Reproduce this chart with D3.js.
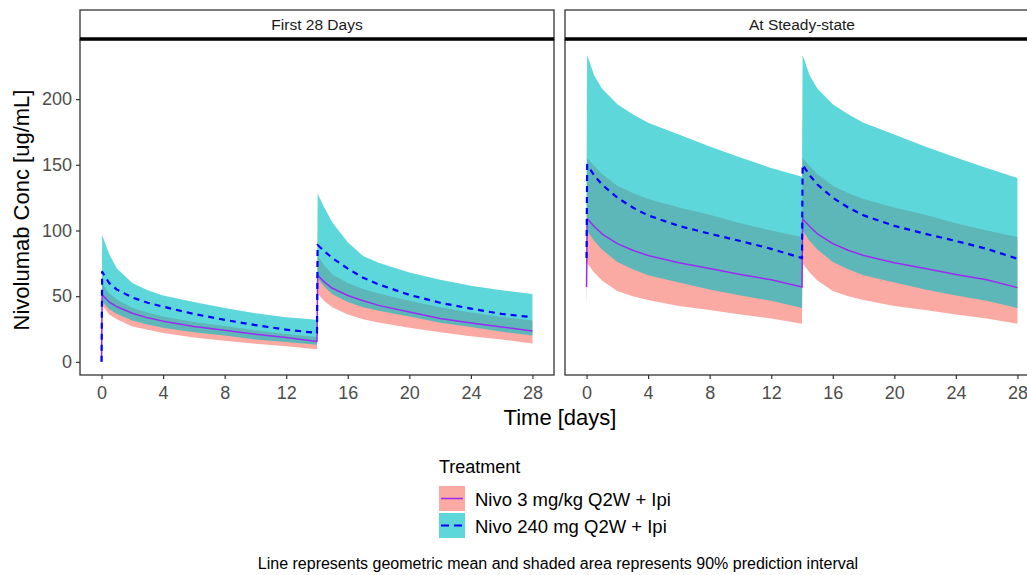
<!DOCTYPE html>
<html>
<head>
<meta charset="utf-8">
<script src="https://cdn.jsdelivr.net/npm/d3@7"></script>
<style>
  html, body { margin: 0; padding: 0; background: #fff; }
  svg { display: block; font-family: "Liberation Sans", Arial, Helvetica, sans-serif; }
</style>
</head>
<body>
<svg id="chart" width="1027" height="575"></svg>
<script>
// ---------------- data ----------------
const panelNames = ["First 28 Days", "At Steady-state"];
const treatments = ["Nivo 3 mg/kg Q2W + Ipi", "Nivo 240 mg Q2W + Ipi"];
const xTicks = [0, 4, 8, 12, 16, 20, 24, 28];
const yTicks = [0, 50, 100, 150, 200];
const times = [0, 0.04, 0.5, 1, 2, 3, 4, 6, 8, 10, 12, 14, 14.04, 14.5, 15, 16, 17, 18, 20, 22, 24, 26, 28];

// First 28 days
const first_nivo3_mean = [0, 51, 45.5, 42, 37, 33.5, 31, 27, 24, 21, 18.5, 15.5, 66, 60.5, 56, 50.5, 46.5, 43, 38, 33, 29.5, 26.5, 23.5];
const first_nivo3_lo   = [0, 43, 36, 32.5, 27, 24.5, 22, 18.5, 16, 13.7, 11.8, 9.6, 52, 46, 41.5, 36, 32.5, 30, 26, 22.5, 19.5, 17, 14];
const first_nivo3_hi   = [0, 60, 52, 47.5, 41, 37.5, 34.5, 30.3, 27.3, 24, 21.3, 19, 81, 73, 66.5, 60, 55.5, 52, 46.5, 41.5, 37.5, 34.3, 31.5];
const first_nivo240_mean = [0, 68.5, 60, 55, 49, 45, 42, 36.5, 32, 28, 24.5, 22, 89, 84, 79, 71, 64, 59, 51, 45, 40.5, 36.5, 34];
const first_nivo240_lo   = [0, 46, 40, 36.5, 31.5, 28.5, 26, 22.5, 20, 17, 15.2, 13, 63.5, 57, 51.5, 45.5, 41.5, 39, 34.5, 29.8, 26.5, 23, 20];
const first_nivo240_hi   = [0, 96.5, 82, 71, 60, 54.5, 50.5, 45.5, 41, 37, 34, 32, 128, 117, 106, 91, 80.5, 75.5, 68, 62.5, 58, 54.5, 51.7];

// At steady-state
const ss_nivo3_mean = [57, 109, 103, 97.5, 90, 85, 81, 75.5, 71, 66.5, 62.5, 57, 109, 103, 97.5, 90, 85, 81, 75.5, 71, 66.5, 62.5, 56.5];
const ss_nivo3_lo   = [42, 75, 68, 62, 54, 50, 47, 42.5, 39.5, 36, 33, 29, 75, 68, 62, 54, 50, 47, 42.5, 39.5, 36, 33, 29];
const ss_nivo3_hi   = [95, 155, 149, 143, 134, 128.5, 124, 117.5, 112, 105.5, 100, 95, 155, 149, 143, 134, 128.5, 124, 117.5, 112, 105.5, 100, 95];
const ss_nivo240_mean = [79, 150, 142, 135, 125, 117.5, 111.5, 103.5, 97.5, 92, 86, 79, 150, 142, 135, 125, 117.5, 111.5, 103.5, 97.5, 92, 86, 78.5];
const ss_nivo240_lo   = [41, 100, 92, 85.5, 76, 70.5, 66, 60.5, 55, 50.5, 46.5, 41, 100, 92, 85.5, 76, 70.5, 66, 60.5, 55, 50.5, 46.5, 41];
const ss_nivo240_hi   = [141, 233.5, 218, 208, 196, 188.5, 182, 173, 164, 155.5, 147.5, 141, 233.5, 218, 208, 196, 188.5, 182, 173, 164, 155.5, 147.5, 140];

const xTitle = "Time [days]";
const yTitle = "Nivolumab Conc [ug/mL]";
const legendTitle = "Treatment";
const caption = "Line represents geometric mean and shaded area represents 90% prediction interval";

// ---------------- styles ----------------
const fillColors = ["#F8766D", "#00BFC4"];
const lineColors = ["#9B2BF2", "#0000FF"];
const fillAlpha = 0.63;

// ---------------- layout ----------------
const svg = d3.select("#chart");
const panelW = 474;
const panelTop = 40, panelBottom = 375;
const stripTop = 10;
const panelLefts = [80, 565];

const panelData = [
  [
    {mean: first_nivo3_mean, lo: first_nivo3_lo, hi: first_nivo3_hi},
    {mean: first_nivo240_mean, lo: first_nivo240_lo, hi: first_nivo240_hi}
  ],
  [
    {mean: ss_nivo3_mean, lo: ss_nivo3_lo, hi: ss_nivo3_hi},
    {mean: ss_nivo240_mean, lo: ss_nivo240_lo, hi: ss_nivo240_hi}
  ]
];

const y = d3.scaleLinear().domain([-10, 245]).range([panelBottom, panelTop]);

panelLefts.forEach((px, p) => {
  const x = d3.scaleLinear().domain([-1.4, 29.4]).range([px, px + panelW]);
  const g = svg.append("g");

  const clipId = "clip" + p;
  svg.append("clipPath").attr("id", clipId)
    .append("rect").attr("x", px).attr("y", panelTop).attr("width", panelW).attr("height", panelBottom - panelTop);

  const plot = g.append("g").attr("clip-path", `url(#${clipId})`);

  // ribbons
  panelData[p].forEach((s, k) => {
    const area = d3.area()
      .x((d, i) => x(times[i]))
      .y0((d, i) => y(s.lo[i]))
      .y1((d, i) => y(s.hi[i]));
    plot.append("path").datum(times).attr("d", area)
      .attr("fill", fillColors[k]).attr("fill-opacity", fillAlpha).attr("stroke", "none");
  });
  // lines
  panelData[p].forEach((s, k) => {
    const line = d3.line().x((d, i) => x(times[i])).y((d, i) => y(s.mean[i]));
    plot.append("path").datum(times).attr("d", line)
      .attr("fill", "none").attr("stroke", lineColors[k])
      .attr("stroke-width", k === 0 ? 1.5 : 2.2)
      .attr("stroke-dasharray", k === 0 ? null : "6,5")
      .attr("stroke-linejoin", "round");
  });

  // panel border
  g.append("rect").attr("x", px).attr("y", panelTop).attr("width", panelW).attr("height", panelBottom - panelTop)
    .attr("fill", "none").attr("stroke", "#333").attr("stroke-width", 1.3);

  // strip
  g.append("rect").attr("x", px).attr("y", stripTop).attr("width", panelW).attr("height", panelTop - stripTop)
    .attr("fill", "#fff").attr("stroke", "#333").attr("stroke-width", 1.3);
  g.append("line").attr("x1", px).attr("x2", px + panelW).attr("y1", 38.8).attr("y2", 38.8)
    .attr("stroke", "#000").attr("stroke-width", 3);
  g.append("text").attr("x", px + panelW / 2).attr("y", 30)
    .attr("text-anchor", "middle").attr("font-size", 15.5).attr("fill", "#1a1a1a")
    .text(panelNames[p]);

  // x axis
  const xa = g.append("g").attr("transform", `translate(0,${panelBottom})`)
    .call(d3.axisBottom(x).tickValues(xTicks).tickSize(4).tickPadding(7).tickFormat(d3.format("d")));
  xa.select(".domain").remove();
  xa.selectAll(".tick line").attr("stroke", "#333").attr("stroke-width", 1.2);
  xa.selectAll(".tick text").attr("font-size", 18).attr("fill", "#4d4d4d")
    .attr("font-family", "Liberation Sans, Arial, sans-serif");

  if (p === 0) {
    const ya = g.append("g").attr("transform", `translate(${px},0)`)
      .call(d3.axisLeft(y).tickValues(yTicks).tickSize(4).tickPadding(4));
    ya.select(".domain").remove();
    ya.selectAll(".tick line").attr("stroke", "#333").attr("stroke-width", 1.2);
    ya.selectAll(".tick text").attr("font-size", 18).attr("fill", "#4d4d4d")
      .attr("font-family", "Liberation Sans, Arial, sans-serif");
  }
});

// axis titles
svg.append("text").attr("x", 560).attr("y", 425).attr("text-anchor", "middle")
  .attr("font-size", 22).attr("fill", "#000").text(xTitle);
svg.append("text").attr("transform", "translate(29,210) rotate(-90)").attr("text-anchor", "middle")
  .attr("font-size", 22).attr("fill", "#000").text(yTitle);

// legend
const lg = svg.append("g");
lg.append("text").attr("x", 439).attr("y", 473).attr("font-size", 18).attr("fill", "#000").text(legendTitle);
treatments.forEach((t, k) => {
  const ky = 486 + k * 27;
  lg.append("rect").attr("x", 439).attr("y", ky).attr("width", 26).attr("height", 25)
    .attr("fill", fillColors[k]).attr("fill-opacity", fillAlpha);
  lg.append("line").attr("x1", 441).attr("x2", 463).attr("y1", ky + 12.5).attr("y2", ky + 12.5)
    .attr("stroke", lineColors[k]).attr("stroke-width", k === 0 ? 1.5 : 2.2)
    .attr("stroke-dasharray", k === 0 ? null : "8,5");
  lg.append("text").attr("x", 475).attr("y", ky + 19.5).attr("font-size", 18.5).attr("fill", "#000").text(t);
});

// caption
svg.append("text").attr("x", 558).attr("y", 569).attr("text-anchor", "middle")
  .attr("font-size", 16).attr("fill", "#000").text(caption);
</script>
</body>
</html>
